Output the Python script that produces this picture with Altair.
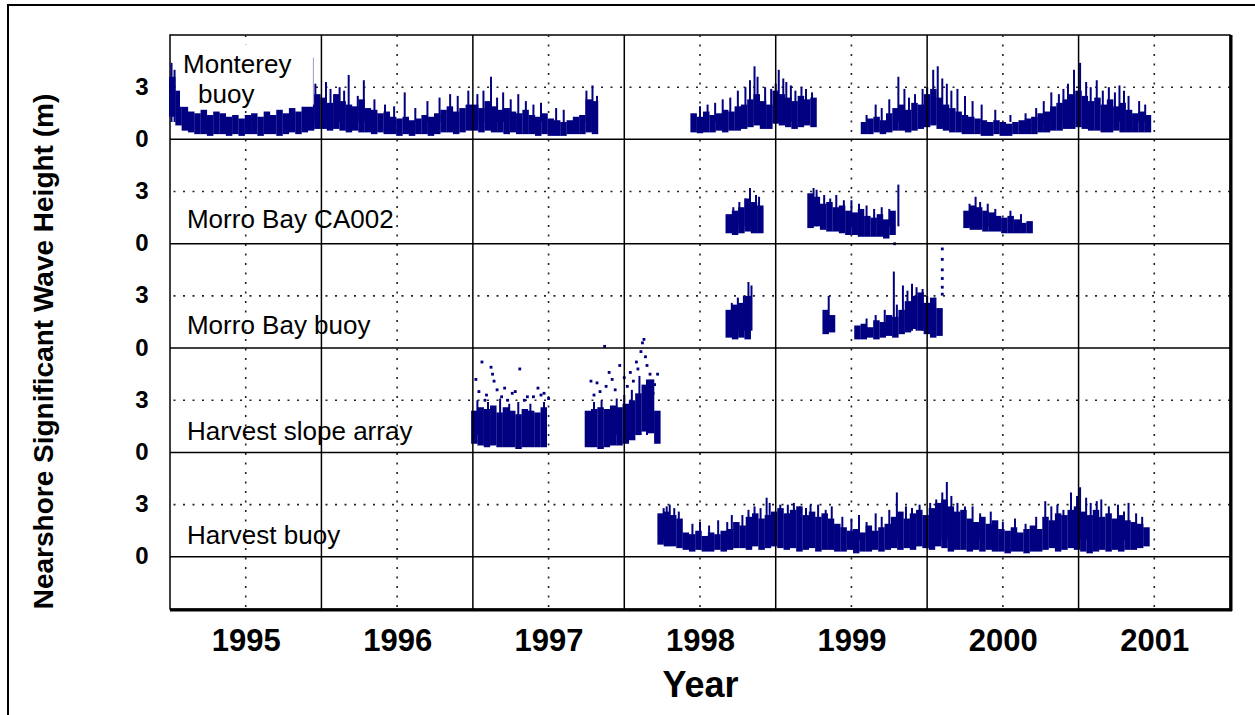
import altair as alt
import pandas as pd

NAVY = "#000080"
STEP = 1 / 24  # half-month bins (years)

# ---------------- data (wave height, m) : per-bin low / high of dense band ----------------
# Monterey buoy
MON_A_START = 1995.015
MON_A_HI = [3.6, 2.8, 1.9, 1.6, 1.5, 1.7, 1.4, 1.6, 1.5, 1.3, 1.4, 1.2, 1.4, 1.5, 1.3, 1.6, 1.4, 1.7, 1.5, 1.8, 1.6, 2.0, 2.0, 2.6,
            2.4, 2.1, 2.6, 2.2, 2.0, 1.9, 2.3, 1.8, 1.7, 1.5, 1.6, 1.3, 1.2, 1.3, 1.1, 1.2, 1.4, 1.3, 1.5, 1.7, 1.9, 1.6, 1.8, 2.0,
            2.0, 1.8, 2.2, 1.9, 1.7, 1.8, 1.6, 1.5, 1.7, 1.4, 1.3, 1.5, 1.2, 1.1, 1.0, 1.1, 1.3, 1.4, 2.3, 2.2]
MON_A_LO = [1.3, 0.8, 0.5, 0.4, 0.3, 0.3, 0.2, 0.3, 0.3, 0.2, 0.3, 0.2, 0.3, 0.3, 0.2, 0.3, 0.3, 0.2, 0.3, 0.4, 0.3, 0.4, 0.5, 0.6,
            0.6, 0.5, 0.6, 0.5, 0.4, 0.5, 0.4, 0.4, 0.3, 0.4, 0.3, 0.3, 0.2, 0.3, 0.2, 0.3, 0.3, 0.2, 0.3, 0.4, 0.4, 0.3, 0.4, 0.5,
            0.5, 0.4, 0.5, 0.4, 0.4, 0.3, 0.4, 0.3, 0.3, 0.3, 0.2, 0.3, 0.2, 0.2, 0.2, 0.3, 0.3, 0.3, 0.4, 0.3]
MON_B_START = 1998.458
MON_B_HI = [1.5, 1.3, 1.6, 1.4, 1.5, 1.7, 1.6, 1.9, 2.0, 2.3, 2.6, 2.2, 2.0, 2.8, 2.6, 2.4, 2.2, 2.5, 2.3, 2.4]
MON_B_LO = [0.4, 0.35, 0.4, 0.4, 0.5, 0.4, 0.5, 0.5, 0.6, 0.7, 0.8, 0.6, 0.6, 0.9, 0.8, 0.7, 0.6, 0.7, 0.8, 0.7]
MON_C_START = 1999.583
MON_C_HI = [1.0, 1.2, 1.3, 1.1, 1.5, 1.8, 2.0, 1.7, 2.1, 2.0,
            2.6, 2.9, 2.4, 2.0, 1.8, 1.6, 1.4, 1.3, 1.2, 1.1, 1.0, 1.1,
            1.0, 0.9, 1.0, 1.1, 1.2, 1.3, 1.5, 1.6, 1.9, 2.1, 2.3, 2.6,
            2.8, 2.5, 2.2, 2.4, 2.0, 2.3, 1.9, 2.1, 1.7, 1.5, 1.6, 1.4]
MON_C_LO = [0.3, 0.3, 0.4, 0.3, 0.4, 0.5, 0.5, 0.4, 0.5, 0.6,
            0.7, 0.8, 0.6, 0.5, 0.4, 0.4, 0.3, 0.3, 0.3, 0.2, 0.2, 0.3,
            0.2, 0.2, 0.3, 0.3, 0.3, 0.3, 0.4, 0.4, 0.5, 0.5, 0.6, 0.6,
            0.7, 0.6, 0.5, 0.5, 0.4, 0.4, 0.5, 0.4, 0.4, 0.4, 0.4, 0.4]

# Morro Bay CA002
CA_A_START = 1998.69
CA_A_HI = [1.7, 1.9, 2.1, 2.6, 2.4, 2.2]
CA_A_LO = [0.6, 0.5, 0.6, 0.7, 0.6, 0.6]
CA_B_START = 1999.23
CA_B_HI = [2.9, 2.7, 2.3, 2.4, 2.1, 2.2, 1.9, 1.8, 2.0, 1.6, 1.5, 1.7, 1.4, 1.9]
CA_B_LO = [0.9, 1.0, 0.8, 0.7, 0.7, 0.6, 0.5, 0.5, 0.4, 0.4, 0.4, 0.4, 0.3, 0.5]
CA_C_START = 2000.26
CA_C_HI = [1.9, 2.2, 2.1, 1.9, 1.8, 1.6, 1.5, 1.6, 1.4, 1.2, 1.3]
CA_C_LO = [0.9, 0.8, 0.8, 0.7, 0.7, 0.7, 0.6, 0.6, 0.6, 0.6, 0.6]

# Morro Bay buoy
MB_A_START = 1998.69
MB_A_HI = [2.2, 2.5, 2.6, 3.0]
MB_A_LO = [0.6, 0.5, 0.6, 0.5]
MB_B_START = 1999.33
MB_B_HI = [2.2, 1.9]
MB_B_LO = [0.8, 0.9]
MB_C_START = 1999.54
MB_C_HI = [1.3, 1.4, 1.2, 1.6, 1.5, 1.9, 1.8, 2.2, 2.7, 3.0, 3.2, 2.6, 2.9, 2.3]
MB_C_LO = [0.5, 0.5, 0.6, 0.5, 0.6, 0.7, 0.6, 0.8, 0.9, 1.1, 1.0, 0.8, 0.6, 0.7]

# Harvest slope array
HS_A_START = 1997.01
HS_A_HI = [2.4, 2.6, 2.5, 2.7, 2.3, 2.6, 2.4, 2.2, 2.5, 2.4, 2.3, 2.6]
HS_A_LO = [0.5, 0.4, 0.3, 0.4, 0.3, 0.3, 0.3, 0.2, 0.3, 0.3, 0.3, 0.3]
HS_B_START = 1997.76
HS_B_HI = [2.4, 2.5, 2.6, 2.5, 2.7, 2.6, 2.8, 3.0, 3.4, 3.9, 4.2, 2.4]
HS_B_LO = [0.3, 0.3, 0.2, 0.3, 0.4, 0.4, 0.5, 0.7, 1.0, 1.2, 1.1, 0.5]

# Harvest buoy
HB_START = 1998.24
HB_HI = [2.5, 2.6, 2.4, 2.2,
         1.4, 1.3, 1.5, 1.2, 1.4, 1.3, 1.5, 1.6,
         2.0, 1.8, 2.3, 2.5, 2.2, 2.4,
         2.6, 2.8, 2.5, 2.7, 2.9, 2.4, 2.6, 2.3, 2.5, 2.2,
         1.9, 1.7, 1.5, 1.6, 1.4, 1.8, 1.5, 1.7, 1.9,
         2.3, 2.6, 2.2, 2.5, 2.7, 2.4,
         2.8, 3.1, 3.3, 2.9, 2.6, 2.7,
         2.2, 2.0, 2.3, 1.9, 2.1,
         1.6, 1.5, 1.7, 1.4, 1.6, 1.8, 1.6,
         2.3, 2.1, 2.5, 2.4, 2.7,
         2.9, 2.6, 2.4, 2.7, 2.3, 2.5, 2.2, 2.4, 2.1, 2.0, 1.9, 1.7]
HB_LO = [0.7, 0.6, 0.6, 0.5,
         0.4, 0.3, 0.4, 0.3, 0.3, 0.4, 0.3, 0.4,
         0.5, 0.5, 0.4, 0.6, 0.4, 0.5,
         0.6, 0.5, 0.4, 0.5, 0.3, 0.4, 0.5, 0.3, 0.4, 0.4,
         0.3, 0.3, 0.4, 0.2, 0.3, 0.3, 0.4, 0.3, 0.4,
         0.5, 0.4, 0.5, 0.4, 0.6, 0.5,
         0.4, 0.6, 0.5, 0.3, 0.4, 0.4,
         0.3, 0.4, 0.3, 0.4, 0.3,
         0.3, 0.2, 0.3, 0.3, 0.2, 0.3, 0.3,
         0.4, 0.5, 0.3, 0.4, 0.5,
         0.4, 0.3, 0.2, 0.3, 0.4, 0.3, 0.4, 0.3, 0.4, 0.4, 0.5, 0.6]

# peaks rising above the band (time, height)
MON_SPIKE_T = [1995.01, 1995.03, 1995.94, 1995.96, 1996.03, 1996.06, 1996.09, 1996.12, 1996.15, 1996.18, 1996.24, 1996.28,
               1996.35, 1996.42, 1996.48, 1996.55, 1996.62, 1996.7, 1996.78, 1996.85, 1996.9, 1996.97,
               1997.03, 1997.07, 1997.12, 1997.16, 1997.2, 1997.25, 1997.3, 1997.35, 1997.4, 1997.45, 1997.55, 1997.6,
               1997.75, 1997.79, 1997.82,
               1998.5, 1998.55, 1998.6, 1998.65, 1998.7, 1998.75, 1998.8, 1998.83, 1998.86, 1998.88, 1998.93, 1998.97,
               1999.0, 1999.02, 1999.05, 1999.07, 1999.1, 1999.13, 1999.17, 1999.2, 1999.24,
               1999.6, 1999.66, 1999.7, 1999.75, 1999.81, 1999.85, 1999.88, 1999.92, 1999.97, 2000.0, 2000.04, 2000.07,
               2000.1, 2000.13, 2000.16, 2000.2, 2000.25, 2000.3, 2000.36, 2000.45, 2000.55, 2000.65, 2000.72, 2000.77,
               2000.82, 2000.87, 2000.9, 2000.93, 2000.97, 2001.01, 2001.05, 2001.08, 2001.12, 2001.16, 2001.2, 2001.24,
               2001.27, 2001.3, 2001.33, 2001.4, 2001.44]
MON_SPIKE_V = [4.4, 4.0, 4.7, 3.2, 3.3, 2.9, 2.6, 3.0, 2.8, 3.7, 2.5, 3.4,
               2.3, 2.0, 1.9, 2.7, 1.8, 2.2, 2.4, 2.6, 2.5, 2.8,
               2.6, 2.8, 3.6, 2.4, 2.7, 2.3, 2.6, 2.2, 2.0, 2.1, 1.8, 1.7,
               2.8, 3.1, 2.5,
               1.9, 2.0, 2.1, 2.3, 2.4, 2.8, 3.0, 3.4, 4.2, 3.6, 3.0, 2.9,
               3.2, 4.0, 3.5, 3.3, 3.1, 2.8, 3.0, 2.9, 2.7,
               1.4, 2.0, 1.8, 2.3, 3.6, 2.9, 2.4, 2.6, 2.9, 3.0, 4.0, 4.2,
               3.5, 3.2, 2.8, 2.9, 2.5, 2.2, 2.0, 1.7, 1.4, 1.5, 1.8, 2.2,
               2.7, 2.6, 2.9, 3.2, 4.0, 4.4, 3.3, 3.0, 3.4, 2.8, 3.0, 2.7,
               3.1, 2.8, 2.5, 2.2, 2.0]
CA_SPIKE_T = [1998.72, 1998.76, 1998.8, 1998.83, 1998.87, 1998.89, 1999.25, 1999.27, 1999.32, 1999.36, 1999.4, 1999.45,
              1999.5, 1999.55, 1999.6, 1999.65, 1999.7, 1999.75, 1999.81, 2000.28, 2000.32, 2000.35, 2000.4, 2000.45,
              2000.55, 2000.62]
CA_SPIKE_V = [2.1, 2.4, 2.6, 3.2, 2.8, 2.7, 3.2, 3.1, 2.8, 2.6, 2.8, 2.5,
              2.5, 2.3, 2.2, 2.0, 2.1, 2.0, 3.4, 2.3, 2.7, 2.4, 2.3, 2.0,
              1.9, 1.7]
MB_SPIKE_T = [1998.71, 1998.75, 1998.79, 1998.82, 1998.84, 1999.35, 1999.6, 1999.66, 1999.72, 1999.78, 1999.8, 1999.84,
              1999.87, 1999.9, 1999.93, 1999.97, 2000.0, 2000.05]
MB_SPIKE_V = [2.6, 2.9, 3.0, 3.8, 3.6, 3.0, 1.7, 1.9, 2.2, 4.4, 2.5, 3.6,
              3.3, 3.7, 3.5, 3.4, 3.0, 2.9]
HS_SPIKE_T = [1997.03, 1997.1, 1997.18, 1997.24, 1997.3, 1997.38, 1997.47,
              1997.8, 1997.85, 1997.95, 1998.0, 1998.05, 1998.1, 1998.15]
HS_SPIKE_V = [3.0, 2.9, 3.1, 2.8, 2.9, 2.8, 2.9,
              2.9, 3.0, 3.1, 3.3, 3.6, 4.4, 4.2]
HB_SPIKE_T = [1998.26, 1998.28, 1998.3, 1998.33, 1998.36, 1998.45, 1998.5, 1998.56, 1998.62, 1998.68, 1998.71, 1998.78,
              1998.82, 1998.86, 1998.9, 1998.94, 1998.96, 1999.03, 1999.08, 1999.12, 1999.16, 1999.2, 1999.23, 1999.28,
              1999.33, 1999.37, 1999.44, 1999.5, 1999.55, 1999.6, 1999.66, 1999.7, 1999.75, 1999.80, 1999.86, 1999.9,
              1999.95, 2000.02, 2000.06, 2000.10, 2000.13, 2000.16, 2000.2, 2000.25, 2000.30, 2000.35, 2000.42, 2000.5,
              2000.58, 2000.65, 2000.72, 2000.78, 2000.82, 2000.86, 2000.9, 2000.95, 2000.99, 2001.01, 2001.05, 2001.08,
              2001.12, 2001.15, 2001.2, 2001.26, 2001.3, 2001.33, 2001.38, 2001.42]
HB_SPIKE_V = [2.8, 2.9, 3.0, 2.8, 2.6, 1.9, 2.0, 1.8, 2.1, 2.0, 2.4, 2.4,
              2.7, 2.9, 2.8, 3.4, 3.1, 3.0, 3.0, 3.1, 2.9, 2.8, 3.0, 3.0,
              2.7, 2.9, 2.3, 2.2, 2.4, 2.0, 2.5, 2.3, 2.7, 3.7, 2.9, 2.8,
              3.0, 3.1, 3.3, 3.7, 4.3, 3.5, 3.1, 2.9, 2.9, 2.5, 2.6, 2.0,
              2.2, 1.9, 2.3, 3.2, 2.9, 3.0, 2.7, 3.7, 3.5, 4.0, 3.4, 3.1,
              3.2, 3.3, 2.9, 3.0, 2.6, 3.1, 2.5, 2.3]

# isolated single readings (time, height)
MB_DOT_T = [1999.785, 2000.1, 2000.1, 2000.1, 2000.1, 2000.1, 2000.1]
MB_DOT_V = [6.0, 3.1, 3.5, 4.0, 4.5, 5.1, 5.7]
HS_DOT_T = [1997.02, 1997.04, 1997.06, 1997.08, 1997.09, 1997.12, 1997.13, 1997.14, 1997.16, 1997.19, 1997.21, 1997.23,
            1997.26, 1997.28, 1997.31, 1997.34, 1997.36, 1997.4, 1997.43, 1997.45, 1997.47, 1997.5,
            1997.78, 1997.8, 1997.82, 1997.84, 1997.87, 1997.88, 1997.9, 1997.92, 1997.94, 1997.97, 1998.0, 1998.02,
            1998.04, 1998.06, 1998.08, 1998.09, 1998.11, 1998.12, 1998.13, 1998.14, 1998.15, 1998.17, 1998.19, 1998.2,
            1998.22]
HS_DOT_V = [4.2, 3.5, 5.2, 3.0, 3.3, 4.9, 4.5, 4.1, 3.6, 3.2, 3.7, 3.0,
            3.4, 3.5, 4.8, 3.0, 3.2, 3.2, 3.7, 3.3, 3.4, 3.1,
            4.1, 3.3, 4.0, 3.5, 6.1, 3.8, 4.6, 4.2, 3.6, 5.0, 4.3, 3.8,
            4.6, 4.1, 5.2, 4.8, 5.8, 6.3, 6.5, 5.5, 5.0, 4.5, 3.4, 3.9,
            4.5]

SERIES = ["Monterey buoy", "Morro Bay CA002", "Morro Bay buoy", "Harvest slope array", "Harvest buoy"]
OFFSETS = [24, 18, 12, 6, 0]  # vertical stacking of the panels (m)
OFF = dict(zip(SERIES, OFFSETS))

YEARS = [1995, 1996, 1997, 1998, 1999, 2000, 2001]

# ---------------- build tables ----------------
SEGMENTS = [
    ("Monterey buoy", MON_A_START, MON_A_LO, MON_A_HI),
    ("Monterey buoy", MON_B_START, MON_B_LO, MON_B_HI),
    ("Monterey buoy", MON_C_START, MON_C_LO, MON_C_HI),
    ("Morro Bay CA002", CA_A_START, CA_A_LO, CA_A_HI),
    ("Morro Bay CA002", CA_B_START, CA_B_LO, CA_B_HI),
    ("Morro Bay CA002", CA_C_START, CA_C_LO, CA_C_HI),
    ("Morro Bay buoy", MB_A_START, MB_A_LO, MB_A_HI),
    ("Morro Bay buoy", MB_B_START, MB_B_LO, MB_B_HI),
    ("Morro Bay buoy", MB_C_START, MB_C_LO, MB_C_HI),
    ("Harvest slope array", HS_A_START, HS_A_LO, HS_A_HI),
    ("Harvest slope array", HS_B_START, HS_B_LO, HS_B_HI),
    ("Harvest buoy", HB_START, HB_LO, HB_HI),
]
core_rows = []
for name, start, lo, hi in SEGMENTS:
    for i, (l, h) in enumerate(zip(lo, hi)):
        core_rows.append({"t": start + i * STEP, "y0": OFF[name] + l, "y1": OFF[name] + h})
core = pd.DataFrame(core_rows)

spike_rows = []
for name, ts, vs in [("Monterey buoy", MON_SPIKE_T, MON_SPIKE_V), ("Morro Bay CA002", CA_SPIKE_T, CA_SPIKE_V),
                     ("Morro Bay buoy", MB_SPIKE_T, MB_SPIKE_V), ("Harvest slope array", HS_SPIKE_T, HS_SPIKE_V),
                     ("Harvest buoy", HB_SPIKE_T, HB_SPIKE_V)]:
    for t, v in zip(ts, vs):
        spike_rows.append({"t": t, "y0": OFF[name] + 1.0, "y1": OFF[name] + v})
spikes = pd.DataFrame(spike_rows)

dot_rows = []
for name, ts, vs in [("Morro Bay buoy", MB_DOT_T, MB_DOT_V), ("Harvest slope array", HS_DOT_T, HS_DOT_V)]:
    for t, v in zip(ts, vs):
        dot_rows.append({"t": t, "y0": OFF[name] + v})
dots = pd.DataFrame(dot_rows)

LABEL_TEXT = ["Monterey", "buoy", "Morro Bay CA002", "Morro Bay buoy", "Harvest slope array", "Harvest buoy"]
LABEL_T = [1995.086, 1995.185, 1995.112, 1995.112, 1995.112, 1995.112]
LABEL_Y = [28.28, 26.56, 19.37, 13.27, 7.18, 1.2]
labels = pd.DataFrame({"t": LABEL_T, "y0": LABEL_Y, "text": LABEL_TEXT})

solid_h = pd.DataFrame({"y0": OFFSETS})
dotted_h = pd.DataFrame({"y0": [o + 3 for o in OFFSETS]})
solid_v = pd.DataFrame({"t": [y + 1 for y in YEARS[:-1]]})
dotted_v = pd.DataFrame({"t": [y + 0.5 for y in YEARS]})

# ---------------- scales / axes ----------------
FONT = "Liberation Sans"
XS = alt.Scale(domain=[1995, 2002], nice=False, zero=False)
YS = alt.Scale(domain=[-3, 30], nice=False, zero=False)
XA = alt.Axis(values=[y + 0.5 for y in YEARS], labelExpr="format(floor(datum.value), 'd')", ticks=False,
              grid=False, domain=False, labelFont=FONT, labelFontWeight="bold", labelFontSize=31,
              labelPadding=17, labelColor="black", title="Year", titleFont=FONT, titleFontSize=36,
              titleFontWeight="bold", titleColor="black", titleY=59, titleBaseline="top")
YA = alt.Axis(values=[v for o in sorted(OFFSETS) for v in (o, o + 3)],
              labelExpr="datum.value % 6 == 0 ? '0' : '3'", ticks=False, grid=False, domain=False,
              labelFont=FONT, labelFontWeight="bold", labelFontSize=24, labelPadding=22, labelColor="black",
              title="Nearshore Significant Wave Height (m)", titleFont=FONT, titleFontSize=28,
              titleFontWeight="bold", titleColor="black", titleX=-112, titleY=316)


def X(field="t"):
    return alt.X(f"{field}:Q", scale=XS, axis=XA)


def Y(field="y0"):
    return alt.Y(f"{field}:Q", scale=YS, axis=YA)


one = pd.DataFrame({"a": [0]})

dot_h_layer = alt.Chart(dotted_h).mark_rule(color="#222", strokeWidth=1.6, strokeDash=[2, 7.5]).encode(y=Y())
dot_v_layer = alt.Chart(dotted_v).mark_rule(color="#222", strokeWidth=1.6, strokeDash=[2, 7.5]).encode(x=X())
core_layer = alt.Chart(core).mark_rule(color=NAVY, strokeWidth=6.5).encode(x=X(), y=Y(), y2="y1:Q")
spike_layer = alt.Chart(spikes).mark_rule(color=NAVY, strokeWidth=2).encode(x=X(), y=Y(), y2="y1:Q")
dot_layer = alt.Chart(dots).mark_square(color=NAVY, size=8, opacity=1).encode(x=X(), y=Y())
solid_h_layer = alt.Chart(solid_h).mark_rule(color="black", strokeWidth=1.5).encode(y=Y())
solid_v_layer = alt.Chart(solid_v).mark_rule(color="black", strokeWidth=1.5).encode(x=X())
box_layer = alt.Chart(pd.DataFrame({"t": [1995.066], "t2": [1995.944], "y0": [25.87], "y1": [29.45]})).mark_rect(
    color="white").encode(x=X(), x2="t2:Q", y=Y(), y2="y1:Q")
text_layer = alt.Chart(labels).mark_text(align="left", baseline="middle", font=FONT, fontSize=26,
                                         color="black").encode(x=X(), y=Y(), text="text:N")
right_edge = alt.Chart(one).mark_rule(color="black", strokeWidth=3).encode(
    x=alt.value(1061), y=alt.value(0), y2=alt.value(576))
bottom_edge = alt.Chart(one).mark_rule(color="black", strokeWidth=3).encode(
    x=alt.value(0), x2=alt.value(1062), y=alt.value(575))
outer = alt.Chart(one).mark_rect(filled=False, stroke="black", strokeWidth=2).encode(
    x=alt.value(-162), x2=alt.value(1100), y=alt.value(-30), y2=alt.value(720))

chart = alt.layer(
    dot_h_layer, dot_v_layer, core_layer, spike_layer, dot_layer, solid_h_layer, solid_v_layer,
    box_layer, text_layer, right_edge, bottom_edge, outer
).properties(
    width=1060, height=574,
    autosize=alt.AutoSizeParams(type="none"),
    padding={"left": 170, "top": 35, "right": 25, "bottom": 106},
    background="white",
).configure_view(stroke="black", strokeWidth=1.5)

chart.save("out.html", embed_options={"renderer": "svg", "actions": False})
